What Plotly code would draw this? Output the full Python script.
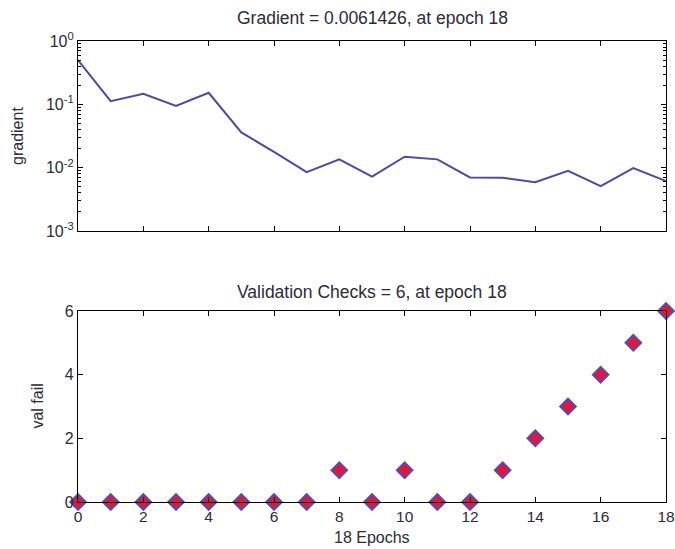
import plotly.graph_objects as go

epochs = list(range(19))
gradient = [0.50, 0.112, 0.147, 0.094, 0.152, 0.036, 0.0177, 0.0085, 0.0135, 0.0072,
            0.0149, 0.0135, 0.0070, 0.0069, 0.0059, 0.0089, 0.0051, 0.0098, 0.0061426]
val_fail = [0, 0, 0, 0, 0, 0, 0, 0, 1, 0, 1, 0, 0, 1, 2, 3, 4, 5, 6]

log_tickvals = [1, 0.1, 0.01, 0.001]
log_ticktext = ["10<sup>0</sup>", "10<sup>-1</sup>", "10<sup>-2</sup>", "10<sup>-3</sup>"]
minor_vals = [a * 10 ** e for e in (-3, -2, -1) for a in range(2, 10)]
x_ticks = list(range(0, 19, 2))
y2_ticks = [0, 2, 4, 6]

font = dict(family="Liberation Sans, Arial, sans-serif", size=16, color="#2b2b3a")
xtick_font = dict(family="Liberation Sans, Arial, sans-serif", size=15.5, color="#2b2b3a")
title_font = dict(family="Liberation Sans, Arial, sans-serif", size=17.5, color="#2b2b3a")

fig = go.Figure()
fig.add_trace(go.Scatter(x=epochs, y=gradient, mode="lines",
                         line=dict(color="#4b4ba3", width=2),
                         xaxis="x", yaxis="y", showlegend=False))
fig.add_trace(go.Scatter(x=epochs, y=val_fail, mode="markers",
                         marker=dict(symbol="diamond", size=12, color="#e0163c",
                                     line=dict(color="#5a4ab0", width=2)),
                         cliponaxis=False,
                         xaxis="x2", yaxis="y2", showlegend=False))

axis_common = dict(showline=True, linecolor="black", linewidth=1.2, mirror="ticks",
                   ticks="inside", ticklen=5, tickcolor="black", showgrid=False,
                   zeroline=False, automargin=False)

fig.update_layout(
    width=675, height=549,
    margin=dict(l=78, r=9, t=41, b=47),
    paper_bgcolor="white", plot_bgcolor="white",
    font=font,
    xaxis=dict(domain=[0, 1], range=[0, 18], tickvals=x_ticks, showticklabels=False,
               anchor="y", tickfont=font, **axis_common),
    yaxis=dict(domain=[0.588, 1], type="log", range=[-3, 0], tickvals=log_tickvals,
               ticktext=log_ticktext, anchor="x", tickfont=font,
               minor=dict(ticks="inside", ticklen=3, tickcolor="black", tickvals=minor_vals),
               **axis_common),
    xaxis2=dict(domain=[0, 1], range=[0, 18], tickvals=x_ticks, anchor="y2",
                tickfont=xtick_font, ticklabeloverflow="allow", **axis_common),
    yaxis2=dict(domain=[0, 0.4143], range=[0, 6], tickvals=y2_ticks, anchor="x2",
                tickfont=font, **axis_common),
    annotations=[
        dict(text="Gradient = 0.0061426, at epoch 18", xref="paper", yref="paper",
             x=0.5, y=1.0, yshift=23, xanchor="center", yanchor="middle",
             showarrow=False, font=title_font),
        dict(text="Validation Checks = 6, at epoch 18", xref="paper", yref="paper",
             x=0.5, y=0.4143, yshift=19, xanchor="center", yanchor="middle",
             showarrow=False, font=title_font),
        dict(text="gradient", xref="paper", yref="paper", x=0, xshift=-60,
             y=0.794, xanchor="center", yanchor="middle",
             textangle=-90, showarrow=False, font=font),
        dict(text="val fail", xref="paper", yref="paper", x=0, xshift=-40,
             y=0.207, xanchor="center", yanchor="middle",
             textangle=-90, showarrow=False, font=font),
        dict(text="18 Epochs", xref="paper", yref="paper", x=0.5, y=0, yshift=-35,
             xanchor="center", yanchor="middle", showarrow=False, font=font),
    ],
)

fig.write_html(
    "out.html",
    config={"displayModeBar": False},
    post_script="document.body.style.margin='0';document.body.style.overflow='hidden';",
)
